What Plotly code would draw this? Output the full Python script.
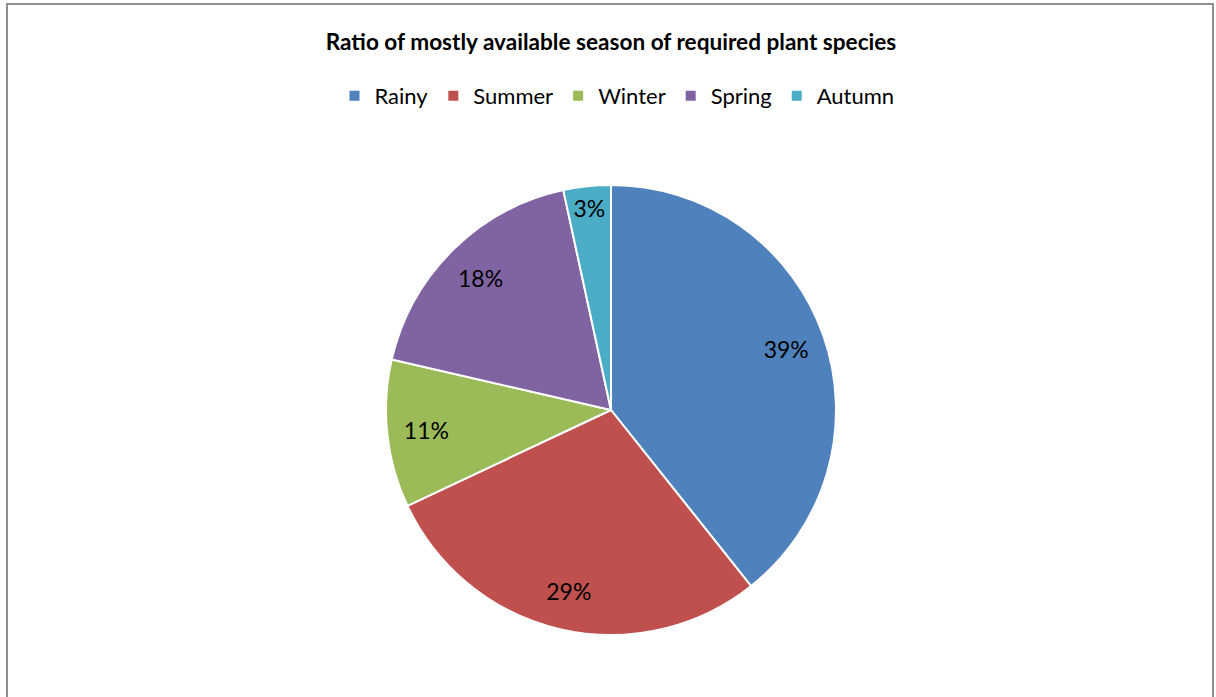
import plotly.graph_objects as go

seasons = ["Rainy", "Summer", "Winter", "Spring", "Autumn"]
shares = [39.3, 28.7, 10.6, 18.0, 3.4]
colors = ["#4F81BD", "#C0504D", "#9BBB59", "#8064A2", "#4BACC6"]
title_text = "Ratio of mostly available season of required plant species"

W, H = 1216, 697
cx, cy, r = 611, 410, 225
FONT = "Lato, Open Sans, sans-serif"
domain = dict(x=[(cx - r) / W, (cx + r) / W], y=[(H - cy - r) / H, (H - cy + r) / H])

# main pie (slices + legend)
pie = go.Pie(
    labels=seasons,
    values=shares,
    sort=False,
    direction="clockwise",
    rotation=0,
    marker=dict(colors=colors, line=dict(color="white", width=2)),
    textinfo="none",
    hoverinfo="label+percent",
    domain=domain,
)

# transparent ring overlay used only to place the percentage labels further out
labels_ring = go.Pie(
    labels=seasons,
    values=shares,
    sort=False,
    direction="clockwise",
    rotation=0,
    hole=0.65,
    marker=dict(colors=["rgba(0,0,0,0)"] * len(seasons), line=dict(width=0)),
    texttemplate="%{percent:.0%}",
    textposition="inside",
    insidetextorientation="horizontal",
    textfont=dict(family=FONT, size=23, color="black"),
    hoverinfo="skip",
    showlegend=False,
    domain=domain,
)

fig = go.Figure([pie, labels_ring])

fig.update_layout(
    width=W, height=H,
    margin=dict(l=0, r=0, t=0, b=0),
    paper_bgcolor="white",
    plot_bgcolor="white",
    title=dict(text="<b>" + title_text + "</b>", x=611 / W, xanchor="center",
               y=1 - 42 / H, yanchor="middle",
               font=dict(family=FONT, size=22.6, color="black")),
    legend=dict(orientation="h", x=617 / W, xanchor="center", y=1 - 96 / H, yanchor="middle",
                font=dict(family=FONT, size=22, color="black"),
                itemwidth=30, itemclick=False),
    shapes=[dict(type="path", xref="paper", yref="paper",
                 path=f"M {7/W} 0 L {7/W} {1-4/H} L {1213/W} {1-4/H} L {1213/W} 0",
                 line=dict(color="#8f8f8f", width=2))],
)

fig.write_html("out.html")
